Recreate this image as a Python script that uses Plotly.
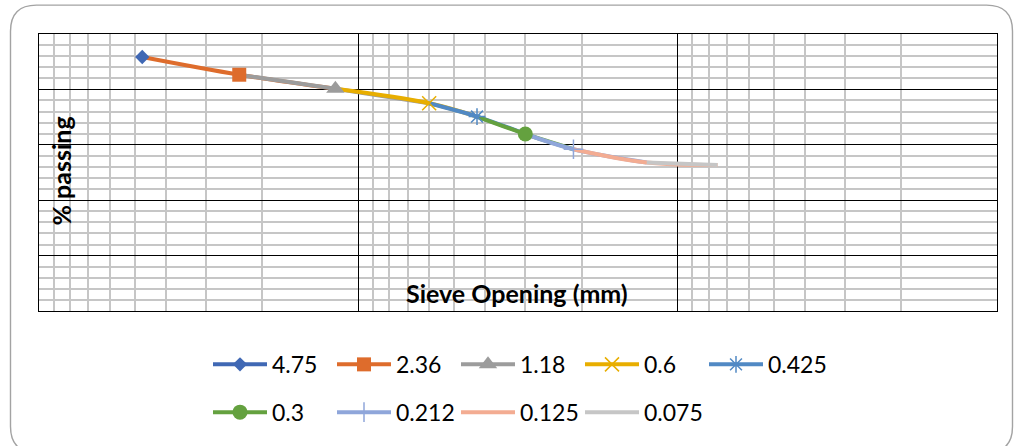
import plotly.graph_objects as go

# ---------------- data ----------------
sieve_labels = ["4.75", "2.36", "1.18", "0.6", "0.425", "0.3", "0.212", "0.125", "0.075"]
sieve_mm = [4.75, 2.36, 1.18, 0.6, 0.425, 0.3, 0.212, 0.125, 0.075]
percent_passing = [91.7, 85.3, 80.2, 75.0, 70.2, 63.9, 58.4, 53.6, 52.7]

# ---------------- styles ----------------
colors = ["#4068B4", "#DE6C2C", "#9C9C9C", "#E8AE00", "#5189C4",
          "#64A13F", "#8FA6DA", "#F3AC92", "#C6C6C6"]
symbols = ["diamond", "square", "triangle-up", "x-thin-open", "asterisk-open",
           "circle", "cross-thin-open", None, None]
msizes = [11, 14, 16, 14, 14, 15, 14, 0, 0]
FONT = "Lato"
W, H = 1015, 446
PL, PR, PT, PB = 39, 997, 34.3, 310.7

fig = go.Figure()
n = len(sieve_mm)

# smooth line segments: each series runs from the previous sieve through its own sieve
for i in range(1, n):
    idx = list(range(i - 1, min(n, i + 2)))
    fig.add_trace(go.Scatter(
        x=[sieve_mm[j] for j in idx], y=[percent_passing[j] for j in idx],
        mode="lines", line=dict(color=colors[i], width=4, shape="spline", smoothing=1),
        showlegend=False, hoverinfo="skip"))

# markers (and legend entries)
for i in range(n):
    sym = symbols[i]
    tr = dict(x=[sieve_mm[i]], y=[percent_passing[i]], name=sieve_labels[i],
              line=dict(color=colors[i], width=4),
              legend="legend" if i < 5 else "legend2")
    if sym:
        open_sym = sym.endswith("open")
        tr["mode"] = "lines+markers"
        tr["marker"] = dict(symbol=sym, size=msizes[i], color=colors[i],
                            line=dict(color=colors[i], width=1.5 if open_sym else 0))
    else:
        tr["mode"] = "lines"
    fig.add_trace(go.Scatter(**tr))


def px2paper(px, py):
    return (px - PL) / (PR - PL), (PB - py) / (PB - PT)


# rounded chart border
L, R, T, B, r = 10.5, 1012.5, 5.5, 452, 26
pts = [("M", [(L + r, T)]), ("L", [(R - r, T)]), ("Q", [(R, T), (R, T + r)]),
       ("L", [(R, B - r)]), ("Q", [(R, B), (R - r, B)]), ("L", [(L + r, B)]),
       ("Q", [(L, B), (L, B - r)]), ("L", [(L, T + r)]), ("Q", [(L, T), (L + r, T)])]
path = ""
for cmd, ps in pts:
    path += cmd + " " + " ".join("%.5f,%.5f" % px2paper(*p) for p in ps) + " "
path += "Z"

legend_common = dict(orientation="h", xanchor="left", yanchor="middle",
                     font=dict(family=FONT, size=23, color="#000000"),
                     entrywidth=55, entrywidthmode="pixels", itemwidth=54,
                     bgcolor="rgba(0,0,0,0)", traceorder="normal")
lx, _ = px2paper(208, 0)
_, ly1 = px2paper(0, 364)
_, ly2 = px2paper(0, 411.7)

ax_x, ax_y = px2paper(517.3, 292.5)
ay_x, ay_y = px2paper(61, 171.5)

fig.update_layout(
    template="none",
    width=W, height=H,
    margin=dict(l=PL, r=W - PR, t=PT, b=H - PB, pad=0),
    paper_bgcolor="white", plot_bgcolor="white",
    font=dict(family=FONT, color="#000000"),
    xaxis=dict(type="log", range=[1, -2], dtick=1, showticklabels=False, ticks="",
               showgrid=True, gridcolor="#000000", gridwidth=1.3,
               minor=dict(dtick="D1", showgrid=True, gridcolor="#C6C6C6", gridwidth=1.7, ticks=""),
               showline=True, linecolor="#000000", linewidth=1.4, mirror=True, zeroline=False),
    yaxis=dict(range=[0, 100], dtick=20, showticklabels=False, ticks="",
               showgrid=True, gridcolor="#000000", gridwidth=1.3,
               minor=dict(dtick=4, showgrid=True, gridcolor="#C6C6C6", gridwidth=1.7, ticks=""),
               showline=True, linecolor="#000000", linewidth=1.4, mirror=True, zeroline=False),
    legend=dict(x=lx, y=ly1, **legend_common),
    legend2=dict(x=lx, y=ly2, **legend_common),
    shapes=[dict(type="path", xref="paper", yref="paper", path=path,
                 line=dict(color="#A3A3A3", width=1.4), layer="below")],
    annotations=[
        dict(text="Sieve Opening (mm)", x=ax_x, y=ax_y, xref="paper", yref="paper",
             xanchor="center", yanchor="middle", showarrow=False,
             font=dict(family=FONT, size=25, weight=700, color="#000000")),
        dict(text="% passing", x=ay_x, y=ay_y, xref="paper", yref="paper", textangle=-90,
             xanchor="center", yanchor="middle", showarrow=False,
             font=dict(family=FONT, size=25, weight=700, color="#000000")),
    ],
)

fig.write_html("out.html")
